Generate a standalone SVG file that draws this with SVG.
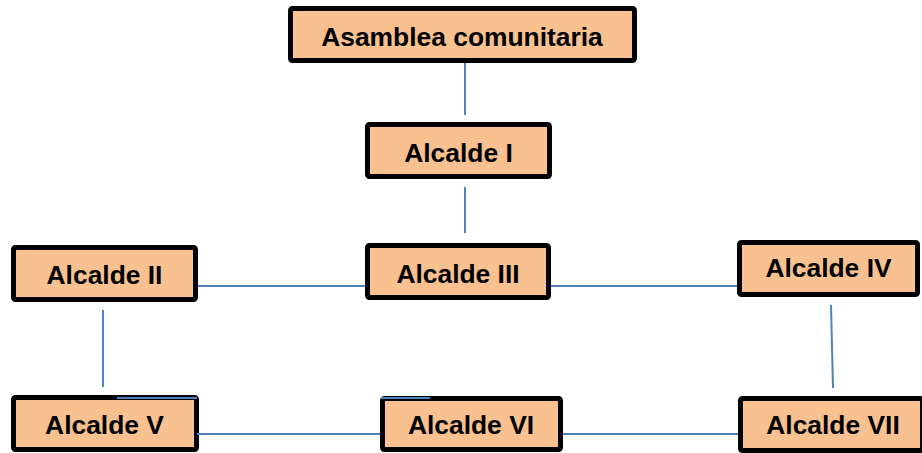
<svg xmlns="http://www.w3.org/2000/svg" width="922" height="453" viewBox="0 0 922 453">
<style>
.box{fill:#F9C18F;stroke:#000;stroke-width:5;}
.lbl{font-family:"Liberation Sans",Arial,sans-serif;font-weight:bold;font-size:26.4px;fill:#000;text-anchor:middle;}
.con{stroke:#4F81BD;stroke-width:2;fill:none;}
</style>
<rect width="922" height="453" fill="#fff"/>
<g id="asamblea"><rect class="box" x="290.5" y="8.5" width="344" height="52" rx="2"/><text class="lbl" x="462" y="46">Asamblea comunitaria</text></g>
<g id="alcalde1"><rect class="box" x="367.5" y="124.5" width="182" height="52" rx="2"/><text class="lbl" x="458.5" y="162">Alcalde I</text></g>
<g id="alcalde3"><rect class="box" x="367.5" y="245.5" width="181" height="52" rx="2"/><text class="lbl" x="458" y="283">Alcalde III</text></g>
<g id="alcalde2"><rect class="box" x="13.5" y="247.5" width="182" height="52" rx="2"/><text class="lbl" x="104.5" y="284">Alcalde II</text></g>
<g id="alcalde4"><rect class="box" x="739.5" y="242.5" width="178" height="52" rx="2"/><text class="lbl" x="828.5" y="277">Alcalde IV</text></g>
<g id="alcalde5"><rect class="box" x="13.5" y="397.5" width="183" height="52" rx="2"/><text class="lbl" x="104.5" y="434">Alcalde V</text></g>
<g id="alcalde6"><rect class="box" x="382.5" y="398.5" width="178" height="51" rx="2"/><text class="lbl" x="471" y="434">Alcalde VI</text></g>
<g id="alcalde7"><rect class="box" x="740.5" y="398.5" width="182" height="52" rx="2"/><text class="lbl" x="833" y="434">Alcalde VII</text></g>
<g id="connectors">
<line class="con" x1="465" y1="63" x2="465" y2="115"/>
<line class="con" x1="465" y1="187" x2="465" y2="233"/>
<line class="con" x1="198" y1="286" x2="365" y2="286"/>
<line class="con" x1="551" y1="286" x2="737" y2="286"/>
<line class="con" x1="103" y1="310" x2="103" y2="387"/>
<line class="con" x1="831" y1="305" x2="833" y2="388"/>
<line class="con" x1="117" y1="398" x2="197" y2="398"/>
<line class="con" x1="381" y1="398" x2="430" y2="398"/>
<line class="con" x1="197" y1="434" x2="380" y2="434"/>
<line class="con" x1="563" y1="434" x2="738" y2="434"/>
</g>
</svg>
